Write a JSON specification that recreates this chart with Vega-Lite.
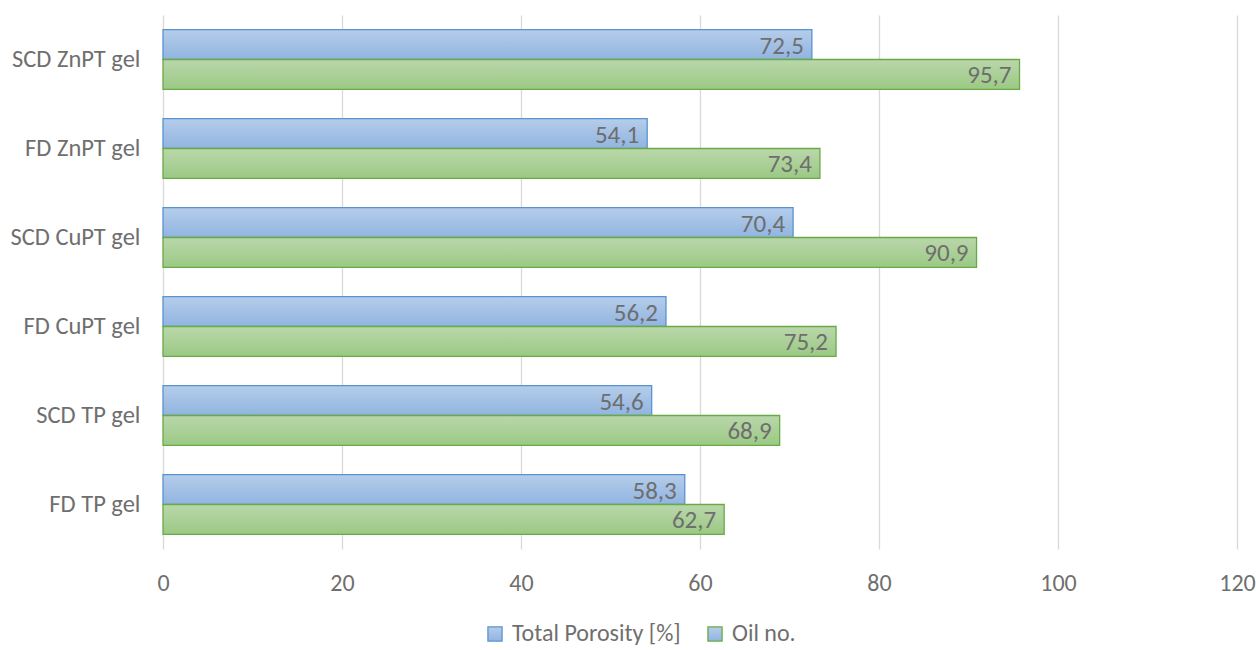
{
  "$schema": "https://vega.github.io/schema/vega-lite/v6.json",
  "width": 1074,
  "height": 534,
  "autosize": {"type": "none"},
  "padding": {"left": 163, "top": 15, "right": 19, "bottom": 101},
  "background": "white",
  "config": {
    "font": "Carlito, Lato, sans-serif",
    "view": {"stroke": null},
    "locale": {"number": {"decimal": ",", "thousands": ".", "grouping": [3], "currency": ["", "€"]}}
  },
  "data": {
    "values": [
      {"sample": "SCD ZnPT gel", "series": "Total Porosity [%]", "value": 72.5},
      {"sample": "SCD ZnPT gel", "series": "Oil no.", "value": 95.7},
      {"sample": "FD ZnPT gel", "series": "Total Porosity [%]", "value": 54.1},
      {"sample": "FD ZnPT gel", "series": "Oil no.", "value": 73.4},
      {"sample": "SCD CuPT gel", "series": "Total Porosity [%]", "value": 70.4},
      {"sample": "SCD CuPT gel", "series": "Oil no.", "value": 90.9},
      {"sample": "FD CuPT gel", "series": "Total Porosity [%]", "value": 56.2},
      {"sample": "FD CuPT gel", "series": "Oil no.", "value": 75.2},
      {"sample": "SCD TP gel", "series": "Total Porosity [%]", "value": 54.6},
      {"sample": "SCD TP gel", "series": "Oil no.", "value": 68.9},
      {"sample": "FD TP gel", "series": "Total Porosity [%]", "value": 58.3},
      {"sample": "FD TP gel", "series": "Oil no.", "value": 62.7}
    ]
  },
  "encoding": {
    "y": {
      "field": "sample", "type": "nominal",
      "sort": ["SCD ZnPT gel", "FD ZnPT gel", "SCD CuPT gel", "FD CuPT gel", "SCD TP gel", "FD TP gel"],
      "scale": {"paddingInner": 0.33, "paddingOuter": 0.165},
      "axis": {"title": null, "domain": false, "ticks": false, "labelFontSize": 24.5, "labelColor": "#6f6f6f", "labelPadding": 23}
    },
    "yOffset": {"field": "series", "type": "nominal", "sort": ["Total Porosity [%]", "Oil no."], "scale": {"paddingInner": 0, "paddingOuter": 0}},
    "x": {
      "field": "value", "type": "quantitative",
      "scale": {"domain": [0, 120], "nice": false},
      "axis": {"title": null, "values": [0, 20, 40, 60, 80, 100, 120], "domain": false, "ticks": false, "grid": true, "gridColor": "#d9d9d9", "gridWidth": 1.3, "labelFontSize": 24, "labelColor": "#6f6f6f", "labelPadding": 22, "labelFlush": false, "format": "d"}
    }
  },
  "layer": [
    {
      "mark": {"type": "bar", "strokeWidth": 1.3},
      "encoding": {
        "fill": {
          "condition": {
            "test": "datum.series === 'Oil no.'",
            "value": {"gradient": "linear", "x1": 0, "y1": 0, "x2": 0, "y2": 1, "stops": [{"offset": 0, "color": "#bad7ab"}, {"offset": 1, "color": "#9bc984"}]}
          },
          "value": {"gradient": "linear", "x1": 0, "y1": 0, "x2": 0, "y2": 1, "stops": [{"offset": 0, "color": "#b5cdea"}, {"offset": 1, "color": "#91b4e0"}]}
        },
        "stroke": {
          "field": "series", "type": "nominal",
          "sort": ["Total Porosity [%]", "Oil no."],
          "scale": {"domain": ["Total Porosity [%]", "Oil no."], "range": ["#5a93d2", "#6aaa45"]},
          "legend": {
            "title": null, "orient": "none", "direction": "horizontal",
            "legendX": 320, "legendY": 607,
            "symbolType": "square", "symbolSize": 200, "symbolStrokeWidth": 1.3,
            "labelFontSize": 24, "labelColor": "#6f6f6f", "labelLimit": 400, "columnPadding": 22, "labelOffset": 5,
            "encode": {"symbols": {"update": {"fill": {"signal": "datum.label === 'Oil no.' ? '#abd098' : '#a5c2e6'"}, "fillOpacity": {"value": 1}}}}
          }
        }
      }
    },
    {
      "mark": {"type": "text", "align": "right", "baseline": "middle", "dx": -8, "dy": 1, "fontSize": 25, "color": "#6e6e6e"},
      "encoding": {
        "text": {"field": "value", "type": "quantitative", "format": ".1f"}
      }
    }
  ]
}
